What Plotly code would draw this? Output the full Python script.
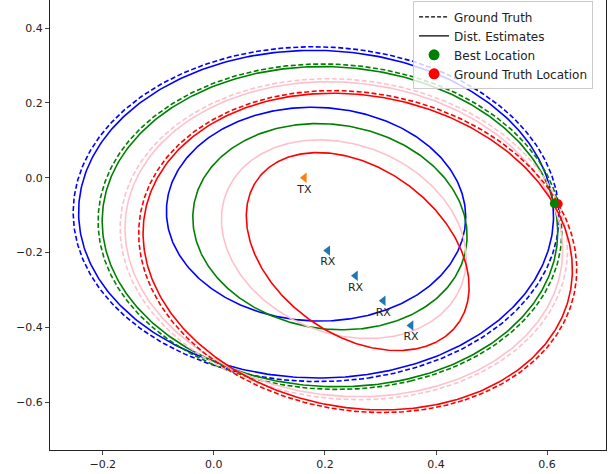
import numpy as np
import plotly.graph_objects as go

# ---- data ----
tx_x, tx_y = 0.163, 0.0
rx_x = [0.205, 0.255, 0.305, 0.355]
rx_y = [-0.195, -0.262, -0.329, -0.395]
colors = ["blue", "green", "pink", "red"]
gt_dist = [0.896, 0.875, 0.870, 0.882]      # ground-truth path lengths (TX->P->RX)
est_dist = [0.877, 0.861, 0.854, 0.868]     # estimated path lengths (outer)
inner_dist = [0.573, 0.559, 0.550, 0.563]   # estimated path lengths (inner)
best_loc = (0.613, -0.069)
gt_loc = (0.620, -0.070)
x_ticks = [-0.2, 0.0, 0.2, 0.4, 0.6]
y_ticks = [-0.6, -0.4, -0.2, 0.0, 0.2, 0.4]


def ellipse(f1x, f1y, f2x, f2y, d, n=400):
    cx, cy = (f1x + f2x) / 2, (f1y + f2y) / 2
    dx, dy = f2x - f1x, f2y - f1y
    c = np.hypot(dx, dy) / 2
    a = d / 2
    b = np.sqrt(a * a - c * c)
    th = np.arctan2(dy, dx)
    t = np.linspace(0, 2 * np.pi, n)
    ex = a * np.cos(t)
    ey = b * np.sin(t)
    x = cx + ex * np.cos(th) - ey * np.sin(th)
    y = cy + ex * np.sin(th) + ey * np.cos(th)
    return x, y


fig = go.Figure()
LW = 1.6
for i in range(len(rx_x)):
    col = colors[i]
    x, y = ellipse(tx_x, tx_y, rx_x[i], rx_y[i], gt_dist[i])
    fig.add_trace(go.Scatter(x=x, y=y, mode="lines", showlegend=False, hoverinfo="skip",
                             line=dict(color=col, width=LW, dash="5px,2.5px")))
    x, y = ellipse(tx_x, tx_y, rx_x[i], rx_y[i], est_dist[i])
    fig.add_trace(go.Scatter(x=x, y=y, mode="lines", showlegend=False, hoverinfo="skip",
                             line=dict(color=col, width=LW)))
    x, y = ellipse(tx_x, tx_y, rx_x[i], rx_y[i], inner_dist[i])
    fig.add_trace(go.Scatter(x=x, y=y, mode="lines", showlegend=False, hoverinfo="skip",
                             line=dict(color=col, width=LW)))

# TX / RX markers
fig.add_trace(go.Scatter(x=[tx_x], y=[tx_y], mode="markers+text", text=["TX"],
                         textposition="bottom center", showlegend=False,
                         textfont=dict(size=11, color="#222", family="DejaVu Sans"),
                         marker=dict(symbol="triangle-left", size=9, color="#ff7f0e")))
fig.add_trace(go.Scatter(x=rx_x, y=rx_y, mode="markers+text", text=["RX"] * len(rx_x),
                         textposition="bottom center", showlegend=False,
                         textfont=dict(size=11, color="#222", family="DejaVu Sans"),
                         marker=dict(symbol="triangle-left", size=9, color="#1f77b4")))

# locations
fig.add_trace(go.Scatter(x=[gt_loc[0]], y=[gt_loc[1]], mode="markers", showlegend=False,
                         marker=dict(size=9, color="red")))
fig.add_trace(go.Scatter(x=[best_loc[0]], y=[best_loc[1]], mode="markers", showlegend=False,
                         marker=dict(size=9, color="green")))

# legend entries
fig.add_trace(go.Scatter(x=[None], y=[None], mode="lines", name="Ground Truth",
                         line=dict(color="black", width=1.3, dash="4px,2px")))
fig.add_trace(go.Scatter(x=[None], y=[None], mode="lines", name="Dist. Estimates",
                         line=dict(color="black", width=1.3)))
fig.add_trace(go.Scatter(x=[None], y=[None], mode="markers", name="Best Location",
                         marker=dict(size=11, color="green")))
fig.add_trace(go.Scatter(x=[None], y=[None], mode="markers", name="Ground Truth Location",
                         marker=dict(size=11, color="red")))

axis_common = dict(showgrid=False, zeroline=False, showline=True, linecolor="#222",
                   linewidth=1, mirror=True, ticks="outside", ticklen=4, tickcolor="#444",
                   tickfont=dict(size=11, color="#222", family="DejaVu Sans"),
                   tickformat=".1f")
fig.update_layout(
    width=608, height=474,
    margin=dict(l=50, r=2, t=0, b=24),
    plot_bgcolor="white", paper_bgcolor="white",
    xaxis=dict(range=[-0.295, 0.706], tickvals=x_ticks, **axis_common),
    yaxis=dict(range=[-0.728, 0.475], tickvals=y_ticks, **axis_common),
    legend=dict(x=0.653, y=0.997, xanchor="left", yanchor="top",
                bgcolor="rgba(255,255,255,0.8)", bordercolor="#cccccc", borderwidth=1,
                font=dict(size=12, color="#222", family="DejaVu Sans"),
                itemwidth=30, tracegroupgap=0),
    font=dict(family="DejaVu Sans"),
)
fig.write_html("out.html", config={"displayModeBar": False},
               post_script="document.body.style.margin='0';document.body.style.padding='0';")
